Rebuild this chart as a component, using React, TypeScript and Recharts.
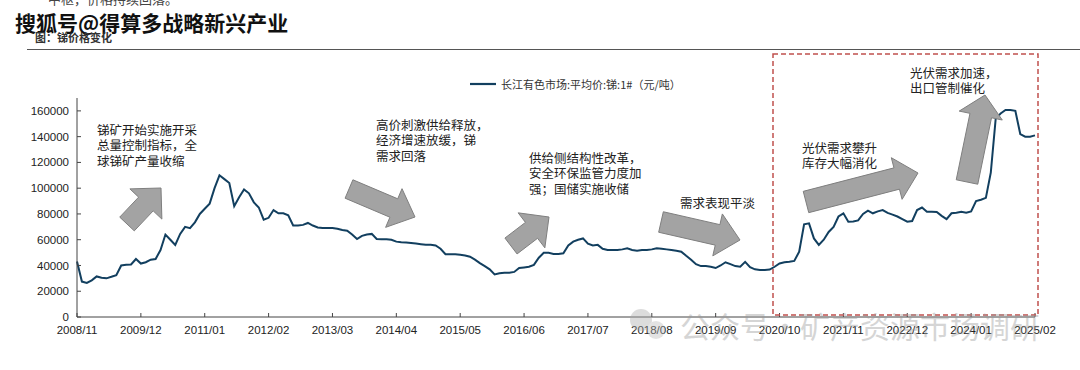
import * as React from 'react';
import { LineChart, Line, XAxis, YAxis, Legend } from 'recharts';

// 长江有色市场 锑 1# 平均价（元/吨），月度，2008/11 起
const prices2008 = [
  43000, 27500, 26500, 28500, 31500, 30500, 30000, 31200, 32500, 40000,
  40500, 40800, 45000, 41500, 42500, 44500, 45000, 52000, 64000, 60000,
  56000, 64500, 70000, 69000, 73500, 80000, 84000, 88000, 100000, 110000,
  107000, 104000, 86000, 93000, 99000, 96000, 89000, 85000, 75500, 77000,
  83000, 80500, 80500, 79000, 71000, 71000, 71500, 73000, 71000,
];
const prices2012 = [
  69500, 69000, 69000, 69000, 68500, 67500, 67000, 64000, 60500, 63000,
  64000, 64500, 60500, 60300, 60300, 60000, 58500, 58000, 57800, 57500,
  57000, 56500, 56000, 56000, 55500, 53000, 48700, 48800, 48800, 48300,
  47800, 46800, 44500, 41800, 39500, 37000, 33000, 34000, 34400, 34400,
  35000, 38000, 38500, 39000, 40500, 46000, 49800, 49800,
];
const prices2016 = [
  49000, 49000, 49500, 55500, 58500, 60000, 61000, 57000, 55500, 56000,
  53000, 52000, 52000, 52000, 52500, 53300, 52000, 51500, 52000, 52000,
  52500, 53300, 53000, 52500, 52000, 51500, 50700, 47500, 44500, 41000,
  39500, 39500, 39000, 38000, 40000, 42500, 41000, 39500, 39000, 42800,
  38600, 37000, 36500, 36500, 36800, 39000, 41500, 42500, 42900,
];
const prices2020 = [
  43500, 50700, 72000, 72700, 61000, 56000, 60000, 66000, 70000, 78000,
  80500, 74000, 74200, 75000, 80000, 82500, 80500, 82000, 83000, 80800,
  79500, 78000, 76000, 74000, 74500, 83000, 85000, 81700, 81700, 81500,
  78500, 76000, 80500, 81000, 81700, 81000, 82000, 90000, 91000, 92500,
  112000, 154000, 158000, 160700, 160700, 160000, 142000, 140000, 140000, 141000,
];
const prices = [...prices2008, ...prices2012, ...prices2016, ...prices2020];

const tickLabels = [
  '2008/11', '2009/12', '2011/01', '2012/02', '2013/03', '2014/04', '2015/05', '2016/06',
  '2017/07', '2018/08', '2019/09', '2020/10', '2021/11', '2022/12', '2024/01', '2025/02',
];
const yTicks = [0, 20000, 40000, 60000, 80000, 100000, 120000, 140000, 160000];
const seriesName = '长江有色市场:平均价:锑:1#（元/吨）';

const monthLabel = (i: number) => {
  const m = 10 + i;
  const y = 2008 + Math.floor(m / 12);
  return `${y}/${String((m % 12) + 1).padStart(2, '0')}`;
};
const data = prices.map((v, i) => ({ month: monthLabel(i), price: v }));

const notes = [
  { x: 97, y: 135, lines: ['锑矿开始实施开采', '总量控制指标，全', '球锑矿产量收缩'] },
  { x: 376, y: 130, lines: ['高价刺激供给释放，', '经济增速放缓，锑', '需求回落'] },
  { x: 529, y: 163, lines: ['供给侧结构性改革，', '安全环保监管力度加', '强；国储实施收储'] },
  { x: 680, y: 208, lines: ['需求表现平淡'] },
  { x: 802, y: 152.5, lines: ['光伏需求攀升', '库存大幅消化'] },
  { x: 910, y: 78, lines: ['光伏需求加速，', '出口管制催化'] },
];

// tail, tip, body half width, head half width, head length
const arrows = [
  [127, 224, 161, 188, 10, 22, 22],
  [349, 189, 415, 217, 10, 21, 23],
  [511, 246, 549, 217, 10, 22, 22],
  [661, 222, 740, 240, 10.5, 21.5, 23],
  [806, 202, 918, 173, 11, 21.5, 22],
  [967, 182, 985, 95, 11, 22, 21],
];

const arrowPoints = (a: number[]) => {
  const [x1, y1, x2, y2, bw, hw, hl] = a;
  const len = Math.hypot(x2 - x1, y2 - y1);
  const ux = (x2 - x1) / len, uy = (y2 - y1) / len;
  const nx = -uy, ny = ux;
  const bx = x2 - ux * hl, by = y2 - uy * hl;
  const p = [
    [x1 + nx * bw, y1 + ny * bw],
    [bx + nx * bw, by + ny * bw],
    [bx + nx * hw, by + ny * hw],
    [x2, y2],
    [bx - nx * hw, by - ny * hw],
    [bx - nx * bw, by - ny * bw],
    [x1 - nx * bw, y1 - ny * bw],
  ];
  return p.map((q) => q.join(',')).join(' ');
};

const cjk = '"Noto Sans CJK SC", "Noto Sans", sans-serif';
const latin = '"Liberation Sans", Arial, sans-serif';

const LegendBox = () => (
  <div style={{ display: 'flex', alignItems: 'center', fontFamily: cjk, fontSize: 11, color: '#333', whiteSpace: 'nowrap' }}>
    <svg width={26} height={6} style={{ marginRight: 5 }}>
      <line x1={0} y1={3} x2={26} y2={3} stroke="#123f5f" strokeWidth={2.2} />
    </svg>
    <span>{seriesName}</span>
  </div>
);

export default function App() {
  return (
    <div style={{ position: 'absolute', left: 0, top: 0, width: 1080, height: 370, background: '#fff', overflow: 'hidden' }}>
      <LineChart width={1080} height={370} data={data} margin={{ top: 98, right: 45, left: 27, bottom: 23 }}>
        <XAxis
          dataKey="month"
          ticks={tickLabels}
          interval={0}
          height={30}
          tickSize={-4}
          tickMargin={13}
          stroke="#444"
          tick={{ fontSize: 11.5, fill: '#222', fontFamily: latin }}
        />
        <YAxis
          domain={[0, 170000]}
          ticks={yTicks}
          width={50}
          tickSize={-4}
          tickMargin={12}
          stroke="#444"
          tick={{ fontSize: 11.5, fill: '#222', fontFamily: latin }}
        />
        <Legend
          layout="horizontal"
          verticalAlign="middle"
          align="center"
          wrapperStyle={{ position: 'absolute', left: 470, top: 76, width: 'auto' }}
          content={() => <LegendBox />}
        />
        <Line
          type="linear"
          dataKey="price"
          name={seriesName}
          stroke="#123f5f"
          strokeWidth={2}
          dot={false}
          isAnimationActive={false}
        />
      </LineChart>
      <svg width={1080} height={370} style={{ position: 'absolute', left: 0, top: 0, pointerEvents: 'none' }}>
        <text x={48} y={4} fontFamily={cjk} fontSize={13} fill="#444">中枢，价格持续回落。</text>
        <text x={15} y={31} fontFamily={cjk} fontSize={21} fontWeight="bold" fill="#111" stroke="#fff" strokeWidth={3} paintOrder="stroke">
          搜狐号@得算多战略新兴产业
        </text>
        <text x={35} y={42} fontFamily={cjk} fontSize={11} fontWeight="bold" fill="#333">图：锑价格变化</text>
        <line x1={27} y1={49.5} x2={1080} y2={49.5} stroke="#555" strokeWidth={1} />
        {arrows.map((a, i) => (
          <polygon key={i} points={arrowPoints(a)} fill="#a3a3a3" stroke="#7f7f7f" strokeWidth={1} />
        ))}
        {notes.map((n, i) => (
          <text key={i} fontFamily={cjk} fontSize={12.5} fill="#222">
            {n.lines.map((l, j) => (
              <tspan key={j} x={n.x} y={n.y + j * 15.3}>{l}</tspan>
            ))}
          </text>
        ))}
        <rect x={773} y={54} width={265} height={261} fill="none" stroke="#c0504d" strokeWidth={1.5} strokeDasharray="5 3" />
        <g opacity={0.4}>
          <circle cx={641} cy={320} r={11} fill="#aaa" />
          <circle cx={656} cy={330} r={9} fill="#bbb" />
          <text x={680} y={338} fontFamily={cjk} fontSize={30} fill="#999">公众号·矿产资源市场调研</text>
        </g>
      </svg>
    </div>
  );
}
